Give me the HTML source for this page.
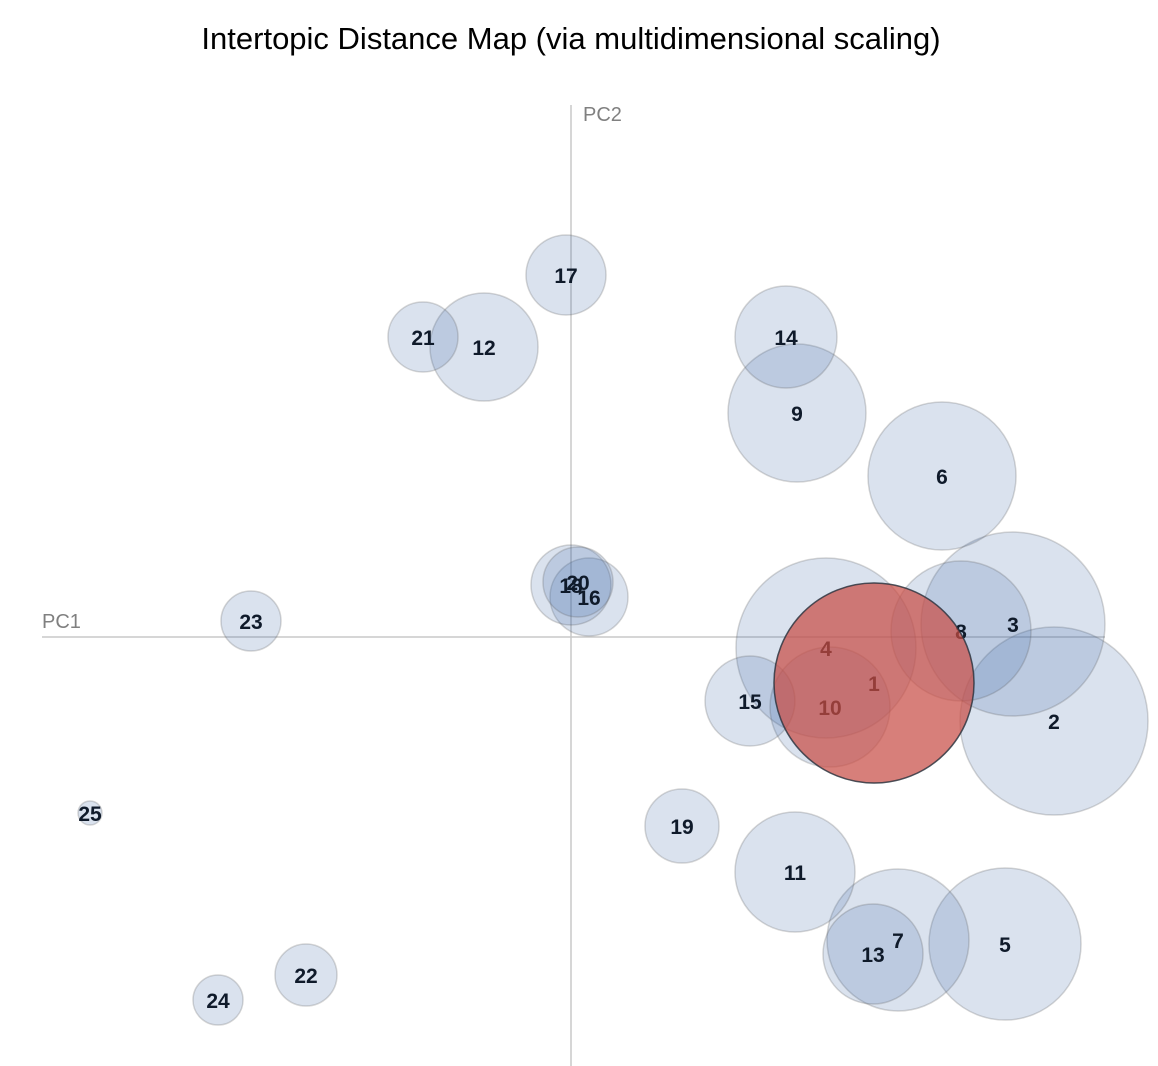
<!DOCTYPE html>
<html><head><meta charset="utf-8"><style>
html,body{margin:0;padding:0;background:#fff;}
svg{display:block;font-family:"Liberation Sans",Arial,sans-serif;}
</style></head><body>
<svg id="chart" width="1158" height="1066">
<text x="571" y="49" text-anchor="middle" font-size="31" fill="#000">Intertopic Distance Map (via multidimensional scaling)</text>
<line x1="571" y1="105" x2="571" y2="1066" stroke="#c8c8c8" stroke-width="1.5"/>
<line x1="42" y1="637" x2="1105" y2="637" stroke="#c8c8c8" stroke-width="1.5"/>
<text x="583" y="121" font-size="20" fill="#808080">PC2</text>
<text x="42" y="628" font-size="20" fill="#808080">PC1</text>
<g id="circles"></g><g id="labels"></g><g id="highlight"></g>
</svg>
<script>
const topics = [1,2,3,4,5,6,7,8,9,10,11,12,13,14,15,16,17,18,19,20,21,22,23,24,25];
const xs = [0.1515,0.2415,0.221,0.1275,0.217,0.1855,0.1635,0.195,0.113,0.1295,0.112,-0.0435,0.151,0.1075,0.0895,0.009,-0.0025,0.0,0.0555,0.0035,-0.074,-0.1325,-0.16,-0.1765,-0.2405];
const ys = [-0.023,-0.042,0.0065,-0.0055,-0.1535,0.0805,-0.1515,0.003,0.112,-0.035,-0.1175,0.145,-0.1585,0.15,-0.032,0.02,0.181,0.026,-0.0945,0.0275,0.15,-0.169,0.008,-0.1815,-0.088];
const freqs = [100,88.4,84.6,81,57.8,54.8,50.4,49,47.6,36,36,29.2,25,26,20.2,15.2,16,16,13.7,12.25,12.25,9.6,9,6.25,1.44];
const selectedTopic = 1;

const xScale = v => 571 + v * 2000;
const yScale = v => 637 - v * 2000;
const rScale = f => Math.sqrt(f) * 10;
const NS = "http://www.w3.org/2000/svg";
const cg = document.getElementById('circles');
const lg = document.getElementById('labels');
const hg = document.getElementById('highlight');

topics.forEach((t, i) => {
  const c = document.createElementNS(NS, 'circle');
  c.setAttribute('cx', xScale(xs[i]));
  c.setAttribute('cy', yScale(ys[i]));
  c.setAttribute('r', rScale(freqs[i]));
  c.setAttribute('fill', '#3a64a6');
  c.setAttribute('fill-opacity', '0.19');
  c.setAttribute('stroke', '#5a5a5a');
  c.setAttribute('stroke-opacity', '0.25');
  c.setAttribute('stroke-width', '1.5');
  
  
  cg.appendChild(c);

  const tx = document.createElementNS(NS, 'text');
  tx.setAttribute('x', xScale(xs[i]));
  tx.setAttribute('y', yScale(ys[i]) + 8);
  tx.setAttribute('text-anchor', 'middle');
  tx.setAttribute('font-size', '21');
  tx.setAttribute('font-weight', 'bold');
  tx.setAttribute('fill', '#0f1a2a');
  tx.textContent = t;
  
  
  lg.appendChild(tx);
});

const si = topics.indexOf(selectedTopic);
const h = document.createElementNS(NS, 'circle');
h.setAttribute('cx', xScale(xs[si]));
h.setAttribute('cy', yScale(ys[si]));
h.setAttribute('r', rScale(freqs[si]));
h.setAttribute('fill', 'rgb(214,80,66)');
h.setAttribute('fill-opacity', '0.68');
h.setAttribute('stroke', '#2a3440');
h.setAttribute('stroke-opacity', '0.8');
h.setAttribute('stroke-width', '1.5');


hg.appendChild(h);
</script>
</body></html>
